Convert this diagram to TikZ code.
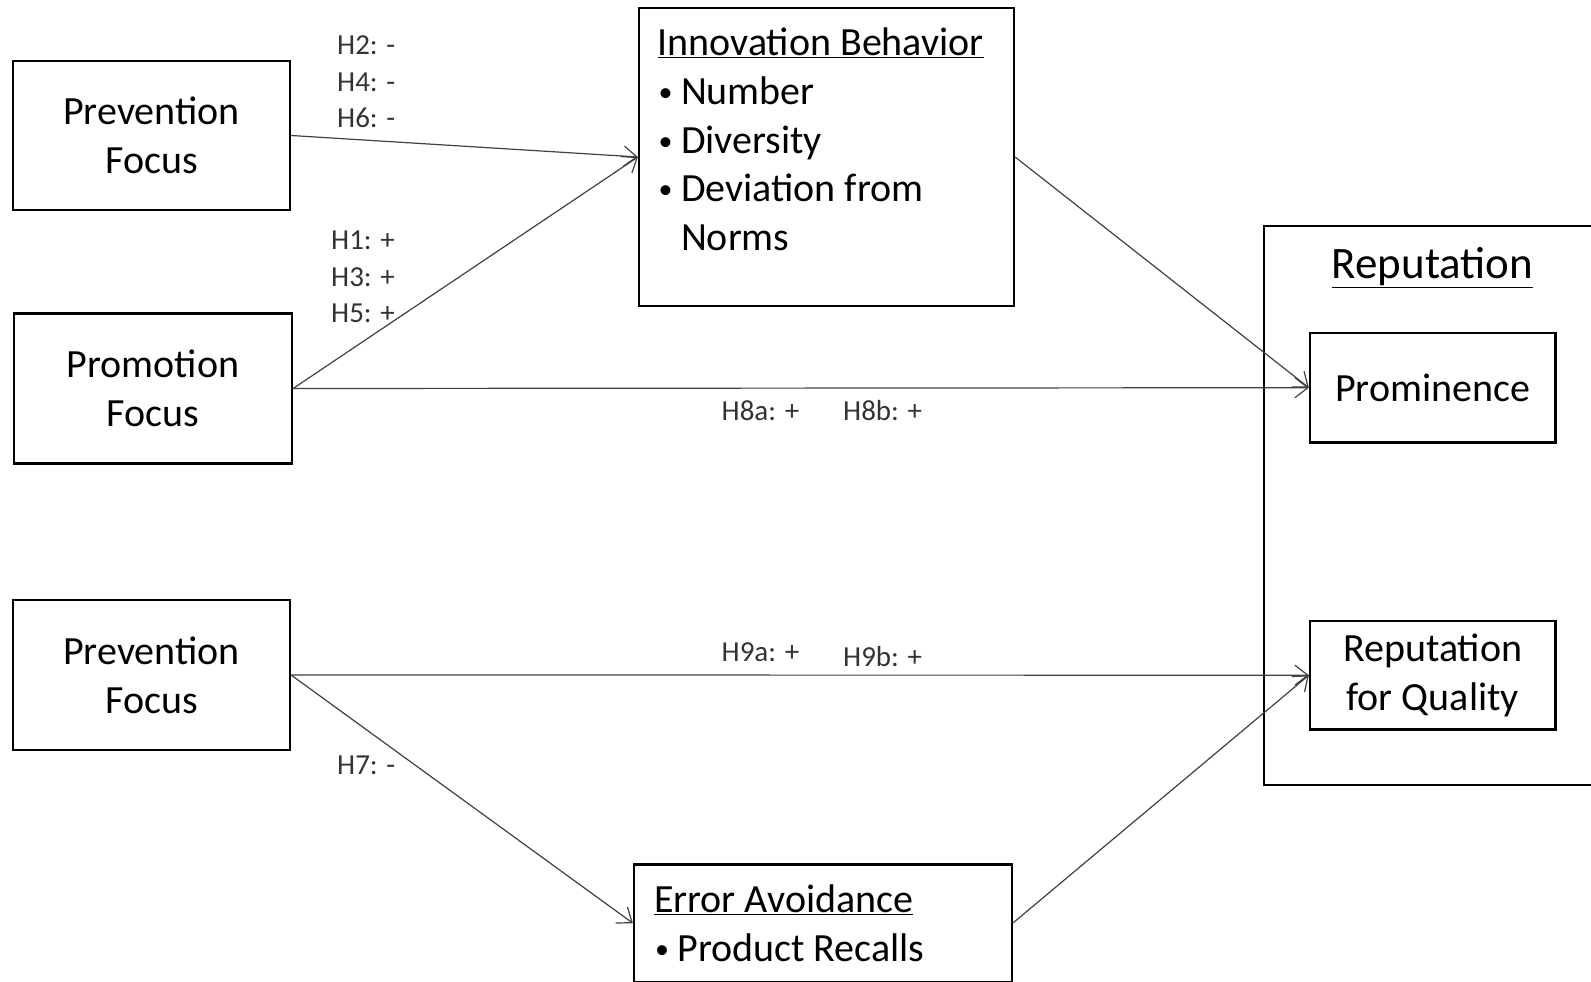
\documentclass[tikz,border=0pt]{standalone}
\usepackage{fontspec}
\usepackage{graphicx}
\setmainfont{Carlito}
\usetikzlibrary{arrows.meta, positioning}
\newcommand{\bul}{\makebox[23.5pt][l]{\hspace{1pt}\raisebox{3pt}{\scalebox{0.7}{\textbullet}}}}

\begin{document}
\begin{tikzpicture}[x=1pt, y=-1pt,
  block/.style={draw, line width=2.2pt, align=center, inner sep=0pt, font=\fontsize{40}{49}\selectfont},
  hyp/.style={align=left, anchor=west, inner sep=0pt, text=black!80, font=\fontsize{29}{36.5}\selectfont},
  arc/.style={-{Straight Barb[length=13pt, width=20pt]}, line width=1.2pt, black!75}]
  \useasboundingbox (0,0) rectangle (1591,982);
  \clip (0,0) rectangle (1591,982);
  \node[block, minimum width=277pt, minimum height=149pt] (prev1) at (151.5,135.5) {Prevention\\Focus};
  \node[block, minimum width=278pt, minimum height=150pt] (promo) at (153,388.5) {Promotion\\Focus};
  \node[block, minimum width=277pt, minimum height=150pt] (prev2) at (151.5,675) {Prevention\\Focus};
  \node[block, minimum width=375pt, minimum height=298pt] (inno) at (826.5,157) {};
  \node[anchor=north west, align=left, inner sep=0pt, font=\fontsize{40}{48.7}\selectfont] (innotext)
    at ([shift={(19.5,21)}]inno.north west)
    {\underline{Innovation Behavior}\\
     \bul Number\\
     \bul Diversity\\
     \bul Deviation from\\
     \makebox[23.5pt][l]{}Norms};
  \node[block, minimum width=377.6pt, minimum height=117.5pt, text width=337.6pt, align=flush left, inner xsep=20pt] (err) at (822.8,923.2)
    {\underline{Error Avoidance}\\\bul Product Recalls};
  \node[draw, line width=2.2pt, minimum width=336pt, minimum height=559pt] (rep) at (1432,505.5) {};
  \node[font=\fontsize{45}{50}\selectfont] (reptitle) at (1432.6,268) {\underline{Reputation}};
  \node[block, minimum width=245.5pt, minimum height=109.5pt] (prom) at (1432.7,387.7) {Prominence};
  \node[block, minimum width=245.5pt, minimum height=108.5pt] (rfq) at (1432.7,675.2) {Reputation\\for Quality};
  \node[hyp] (h246) at (337,82.2) {H2: -\\H4: -\\H6: -};
  \node[hyp] (h135) at (331,277) {H1: +\\H3: +\\H5: +};
  \node[hyp] (h8a) at (721.5,411) {H8a: +};
  \node[hyp] (h8b) at (843,411) {H8b: +};
  \node[hyp] (h9a) at (721.5,652.5) {H9a: +};
  \node[hyp] (h9b) at (843,656.5) {H9b: +};
  \node[hyp] (h7) at (337,765) {H7: -};
  \draw[arc] (prev1.east) -- (inno.west);
  \draw[arc] (promo.east) -- (inno.west);
  \draw[arc] (promo.east) -- (prom.west);
  \draw[arc] (inno.east) -- (prom.west);
  \draw[arc] (prev2.east) -- (rfq.west);
  \draw[arc] (prev2.east) -- (err.west);
  \draw[arc] (err.east) -- (rfq.west);
\end{tikzpicture}
\end{document}
